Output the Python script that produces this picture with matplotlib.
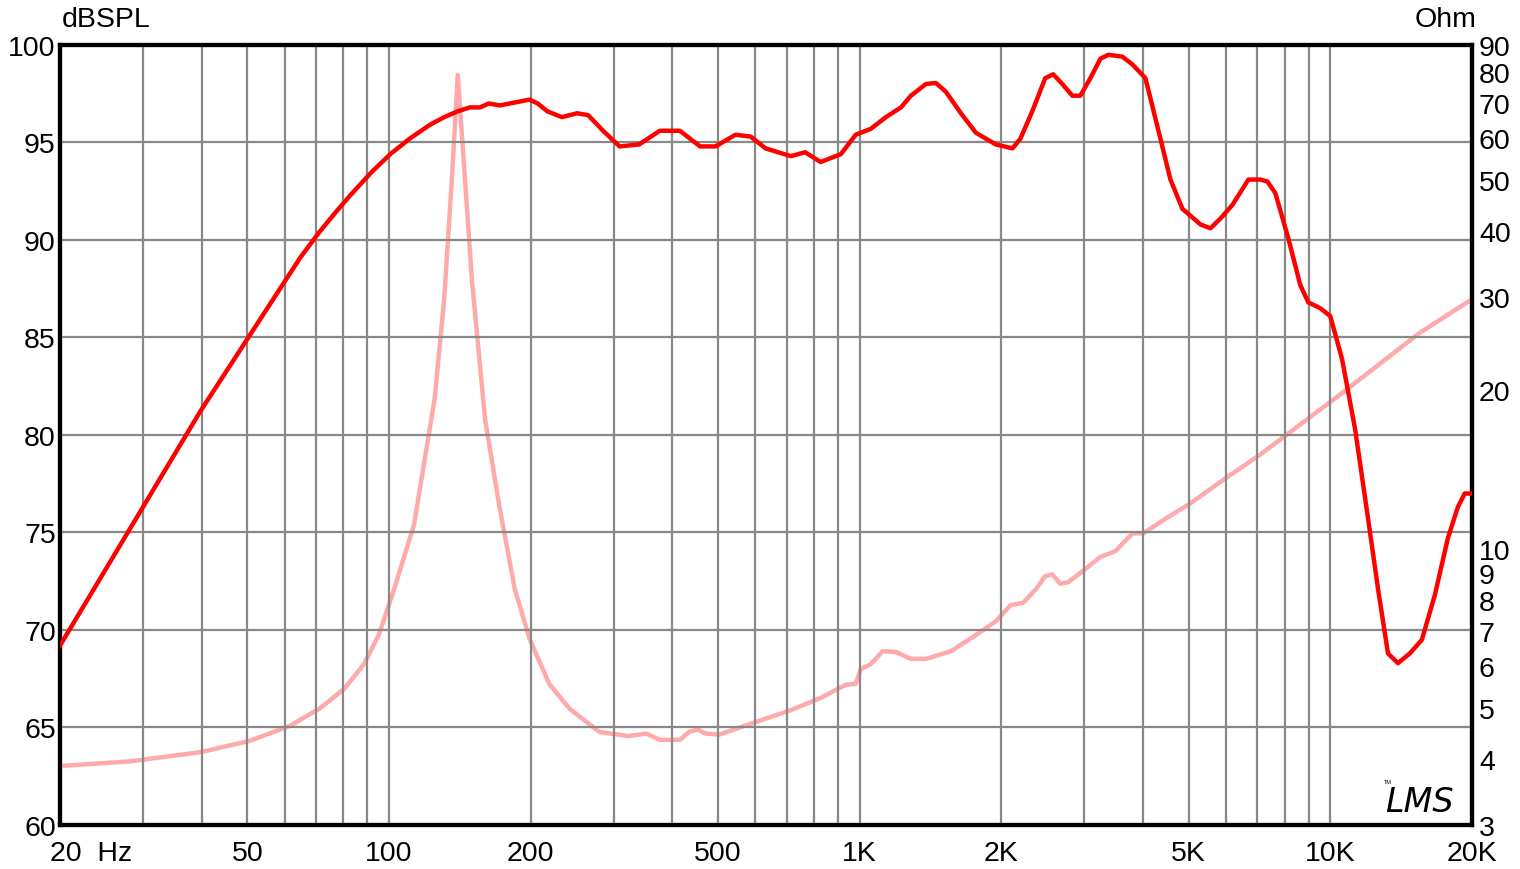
# Frequency response + impedance chart (LMS style)

import numpy as np
import matplotlib.pyplot as plt
import matplotlib.transforms as mtransforms
from matplotlib.ticker import NullLocator

plt.rcParams['font.family'] = ['Liberation Sans', 'DejaVu Sans']

# SPL curve (Hz, dBSPL)
spl_freq = [20, 39.7, 64.8, 71.1, 76.9, 82.8, 92, 100.6, 110.7, 122, 131,
            140, 148.6, 156, 163, 172, 185, 199, 207, 217, 233, 251, 265,
            285, 309, 340, 376, 415, 458, 494, 545, 587, 631, 714, 766, 826,
            912, 981, 1056, 1137, 1224, 1285, 1383, 1452, 1525, 1641, 1766,
            1946, 2113, 2196, 2327, 2479, 2578, 2695, 2830, 2944, 3092, 3248,
            3377, 3617, 3799, 4047, 4355, 4574, 4850, 5297, 5563, 5843, 6194,
            6700, 7104, 7350, 7643, 8140, 8631, 8980, 9521, 9998, 10590,
            11290, 12030, 12630, 13260, 13920, 14760, 15650, 16680, 17770,
            18660, 19300, 20000]
spl_db = [69.2, 81.2, 89.1, 90.4, 91.4, 92.3, 93.5, 94.4, 95.2, 95.9, 96.3,
          96.6, 96.8, 96.8, 97.0, 96.9, 97.05, 97.2, 97.0, 96.6, 96.3, 96.5,
          96.4, 95.6, 94.8, 94.9, 95.6, 95.6, 94.8, 94.8, 95.4, 95.3, 94.7,
          94.3, 94.5, 94.0, 94.4, 95.4, 95.7, 96.3, 96.8, 97.4, 98.0, 98.05,
          97.6, 96.5, 95.5, 94.9, 94.7, 95.2, 96.6, 98.3, 98.5, 98.0, 97.4,
          97.4, 98.3, 99.3, 99.5, 99.4, 99.0, 98.3, 95.2, 93.1, 91.6, 90.8,
          90.6, 91.1, 91.8, 93.1, 93.1, 93.0, 92.4, 90.1, 87.7, 86.8, 86.5,
          86.1, 83.9, 80.3, 75.7, 72.1, 68.8, 68.3, 68.8, 69.5, 71.8, 74.7,
          76.3, 77.0, 77.0]

# Impedance curve (Hz, Ohm)
imp_freq = [20, 28.2, 39.7, 50.6, 61.5, 71.1, 80.3, 88.5, 95.3, 102.6, 113,
            125, 131, 136, 140, 144, 150, 160, 172, 185, 199, 219, 242, 280,
            323, 352, 376, 415, 434, 453, 470, 503, 610, 714, 826, 934, 981,
            1005, 1056, 1119, 1193, 1285, 1383, 1564, 1766, 1946, 2094, 2224,
            2372, 2479, 2566, 2668, 2774, 3012, 3248, 3494, 3799, 4007, 4463,
            5045, 5985, 7104, 8631, 10490, 12730, 15430, 20000]
imp_ohm = [3.88, 3.96, 4.12, 4.33, 4.62, 4.98, 5.43, 6.05, 6.9, 8.4, 11.1,
           19.2, 29.7, 50, 79, 55, 32.4, 17.6, 11.9, 8.4, 6.75, 5.55, 4.98,
           4.5, 4.42, 4.47, 4.35, 4.35, 4.5, 4.55, 4.47, 4.45, 4.72, 4.95,
           5.22, 5.53, 5.55, 5.92, 6.05, 6.4, 6.38, 6.19, 6.19, 6.4, 6.87,
           7.29, 7.83, 7.9, 8.4, 8.88, 8.95, 8.59, 8.65, 9.15, 9.66, 9.9,
           10.7, 10.7, 11.4, 12.2, 13.6, 15.1, 17.2, 19.6, 22.4, 25.6, 29.7]

x_ticks = [20, 50, 100, 200, 500, 1000, 2000, 5000, 10000, 20000]
x_labels = ['20  Hz', '50', '100', '200', '500', '1K', '2K', '5K', '10K', '20K']
x_grid = [30, 40, 50, 60, 70, 80, 90, 100, 200, 300, 400, 500, 600, 700, 800,
          900, 1000, 2000, 3000, 4000, 5000, 6000, 7000, 8000, 9000, 10000]
y_ticks = [60, 65, 70, 75, 80, 85, 90, 95, 100]
ohm_ticks = [3, 4, 5, 6, 7, 8, 9, 10, 20, 30, 40, 50, 60, 70, 80, 90]

fig = plt.figure(figsize=(15.2, 8.7), dpi=100)
ax = fig.add_axes([60 / 1520, 44 / 870, 1412 / 1520, 780 / 870])
ax.set_xscale('log')
ax.set_xlim(20, 20000)
ax.set_ylim(60, 100)
ax.xaxis.set_minor_locator(NullLocator())

for f in x_grid:
    ax.axvline(f, color='#888888', lw=1.6, zorder=1)
for v in y_ticks[1:-1]:
    ax.axhline(v, color='#888888', lw=1.6, zorder=1)

ax2 = ax.twinx()
ax2.set_yscale('log')
ax2.set_ylim(3, 90)
ax2.yaxis.set_minor_locator(NullLocator())
ax2.set_yticks(ohm_ticks)
ax2.set_yticklabels([str(t) for t in ohm_ticks])
ax2.plot(imp_freq, imp_ohm, color='#FFAAAA', lw=3.2, zorder=3,
         solid_joinstyle='round')

ax.set_zorder(ax2.get_zorder() + 1)
ax.patch.set_visible(False)
ax.plot(spl_freq, spl_db, color='#FF0000', lw=3.2, zorder=4,
        solid_joinstyle='round')

ax.set_xticks(x_ticks)
ax.set_xticklabels(x_labels)
ax.set_yticks(y_ticks)
ax.tick_params(axis='both', length=0, labelsize=20.5, pad=3)
ax.tick_params(axis='x', pad=11)
ax2.tick_params(axis='y', length=0, labelsize=20.5, pad=5)

# first label "20  Hz" starts just left of the frame
first = ax.get_xticklabels()[0]
first.set_horizontalalignment('left')
shift = mtransforms.ScaledTranslation(-0.10, 0, fig.dpi_scale_trans)
first.set_transform(first.get_transform() + shift)

for a in (ax, ax2):
    for s in a.spines.values():
        s.set_linewidth(3)
        s.set_color('black')

fig.text(62 / 1520, 1 - 20 / 870, 'dBSPL', fontsize=20.5, va='center', ha='left')
fig.text(1476 / 1520, 1 - 20 / 870, 'Ohm', fontsize=20.5, va='center', ha='right')
ax.text(0.987, 0.018, 'LMS', transform=ax.transAxes, fontsize=24,
        style='italic', ha='right', va='baseline', family='DejaVu Sans')
ax.text(0.9375, 0.052, 'TM', transform=ax.transAxes, fontsize=4,
        ha='left', va='bottom')

fig.savefig('out.png', dpi=100)
